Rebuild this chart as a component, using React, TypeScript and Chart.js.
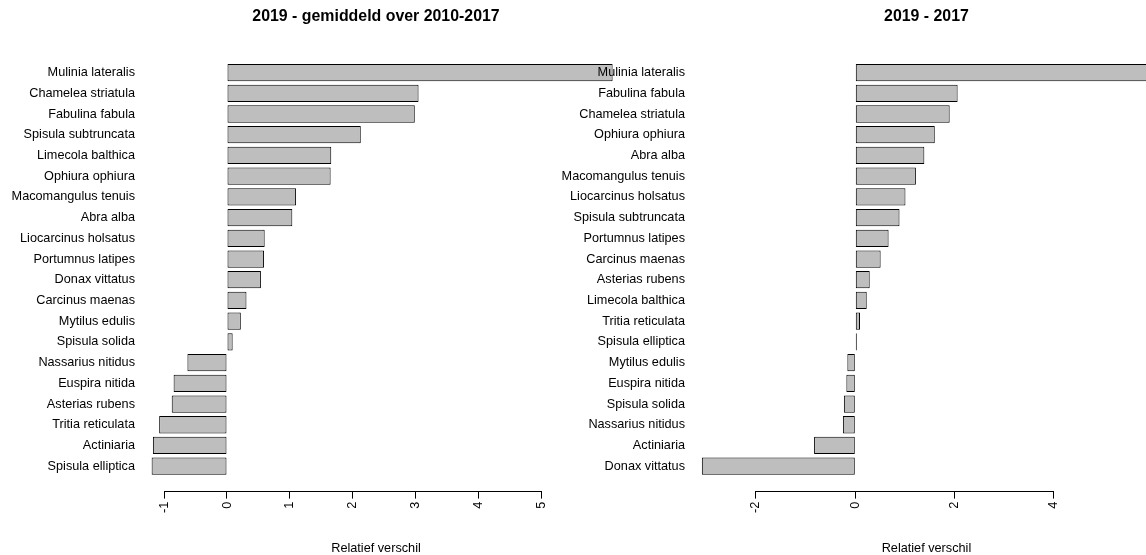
import React, { useEffect, useRef } from 'react';
import { Chart, registerables } from 'chart.js';

Chart.register(...registerables);

const FONT = "'Liberation Sans', Arial, Helvetica, sans-serif";

const leftTitle = '2019 - gemiddeld over 2010-2017';
const rightTitle = '2019 - 2017';
const axisTitle = 'Relatief verschil';

const leftSpecies = [
  'Mulinia lateralis', 'Chamelea striatula', 'Fabulina fabula', 'Spisula subtruncata',
  'Limecola balthica', 'Ophiura ophiura', 'Macomangulus tenuis', 'Abra alba',
  'Liocarcinus holsatus', 'Portumnus latipes', 'Donax vittatus', 'Carcinus maenas',
  'Mytilus edulis', 'Spisula solida', 'Nassarius nitidus', 'Euspira nitida',
  'Asterias rubens', 'Tritia reticulata', 'Actiniaria', 'Spisula elliptica',
];
const leftValues = [
  6.14, 3.05, 2.99, 2.13, 1.66, 1.65, 1.10, 1.04, 0.60, 0.59,
  0.54, 0.31, 0.22, 0.09, -0.63, -0.85, -0.88, -1.08, -1.18, -1.20,
];
const leftTicks = [-1, 0, 1, 2, 3, 4, 5];

const rightSpecies = [
  'Mulinia lateralis', 'Fabulina fabula', 'Chamelea striatula', 'Ophiura ophiura',
  'Abra alba', 'Macomangulus tenuis', 'Liocarcinus holsatus', 'Spisula subtruncata',
  'Portumnus latipes', 'Carcinus maenas', 'Asterias rubens', 'Limecola balthica',
  'Tritia reticulata', 'Spisula elliptica', 'Mytilus edulis', 'Euspira nitida',
  'Spisula solida', 'Nassarius nitidus', 'Actiniaria', 'Donax vittatus',
];
const rightValues = [
  6.14, 2.06, 1.90, 1.60, 1.39, 1.22, 1.01, 0.89, 0.67, 0.51,
  0.29, 0.23, 0.095, 0.03, -0.16, -0.18, -0.23, -0.25, -0.83, -3.09,
];
const rightTicks = [-2, 0, 2, 4];

const rAxisLine = {
  id: 'rAxisLine',
  afterDraw(chart: any) {
    const s = chart.scales.x;
    const t = s.ticks;
    if (!t || !t.length) return;
    const ctx = chart.ctx;
    const x1 = Math.round(s.getPixelForValue(t[0].value) - 0.5) + 0.5;
    const x2 = Math.round(s.getPixelForValue(t[t.length - 1].value) - 0.5) + 0.5;
    const y = Math.round(s.top - 0.5) + 0.5;
    ctx.save();
    ctx.strokeStyle = '#000';
    ctx.lineWidth = 1;
    ctx.beginPath();
    ctx.moveTo(x1 - 0.5, y);
    ctx.lineTo(x2 + 0.5, y);
    ctx.stroke();
    ctx.restore();
  },
};

type PanelCfg = {
  title: string;
  species: string[];
  values: number[];
  ticks: number[];
  left: number;
  width: number;
  yWidth: number;
  padRight: number;
  xMin: number;
  xMax: number;
};

function Panel({ cfg }: { cfg: PanelCfg }) {
  const ref = useRef<HTMLCanvasElement | null>(null);
  useEffect(() => {
    if (!ref.current) return;
    const chart = new Chart(ref.current, {
      type: 'bar',
      data: {
        datasets: [
          {
            data: cfg.values.map((v, i) => ({ x: v, y: i })) as any,
            backgroundColor: '#bebebe',
            borderColor: '#000',
            borderWidth: 1,
            borderSkipped: false,
            barPercentage: 1 / 1.2,
            categoryPercentage: 1,
            clip: false as any,
          } as any,
        ],
      },
      options: {
        indexAxis: 'y',
        responsive: false,
        animation: false,
        layout: { padding: { left: 0, right: cfg.padRight, top: 0, bottom: 0 } },
        plugins: {
          legend: { display: false },
          tooltip: { enabled: false },
          title: {
            display: true,
            text: cfg.title,
            fullSize: false,
            color: '#000',
            font: { family: FONT, size: 15.9, weight: 'bold' },
            padding: { top: 7.5, bottom: 17.3 },
          },
        },
        scales: {
          x: {
            type: 'linear',
            position: 'bottom',
            min: cfg.xMin,
            max: cfg.xMax,
            offset: false,
            afterBuildTicks: (s: any) => {
              s.ticks = cfg.ticks.map((v) => ({ value: v }));
            },
            afterFit: (s: any) => {
              s.height = 63.4;
              s.paddingLeft = 0;
              s.paddingRight = 0;
              s.paddingTop = 0;
              s.paddingBottom = 0;
            },
            grid: {
              display: true,
              drawOnChartArea: false,
              drawTicks: true,
              tickLength: 7,
              color: '#000',
              lineWidth: 1,
              offset: false,
            },
            border: { display: false },
            ticks: {
              minRotation: 90,
              maxRotation: 90,
              padding: 3,
              autoSkip: false,
              color: '#000',
              font: { family: FONT, size: 12.7 },
              callback: (v: any) => String(v),
            },
            title: {
              display: true,
              text: axisTitle,
              color: '#000',
              font: { family: FONT, size: 12.7 },
              padding: { top: 0, bottom: -1 },
            },
          },
          y: {
            type: 'linear',
            position: 'left',
            reverse: true,
            offset: false,
            min: -1.385,
            max: 20.227,
            afterBuildTicks: (s: any) => {
              s.ticks = cfg.species.map((_, i) => ({ value: i }));
            },
            afterFit: (s: any) => {
              s.width = cfg.yWidth;
              s.paddingTop = 0;
              s.paddingBottom = 0;
              s.paddingLeft = 0;
              s.paddingRight = 0;
            },
            grid: { display: false, drawTicks: false, offset: false },
            border: { display: false },
            ticks: {
              autoSkip: false,
              padding: 15,
              color: '#000',
              font: { family: FONT, size: 12.7 },
              callback: (v: any) => cfg.species[v as number],
            },
          },
        },
      } as any,
      plugins: [rAxisLine],
    });
    return () => chart.destroy();
  }, [cfg]);
  return (
    <canvas
      ref={ref}
      width={cfg.width}
      height={555}
      style={{ position: 'absolute', left: cfg.left, top: 0, width: cfg.width, height: 555 }}
    />
  );
}

const leftCfg: PanelCfg = {
  title: leftTitle,
  species: leftSpecies,
  values: leftValues,
  ticks: leftTicks,
  left: 0,
  width: 640,
  yWidth: 150,
  padRight: 38,
  xMin: -1.226,
  xMax: 5.971,
};

const rightCfg: PanelCfg = {
  title: rightTitle,
  species: rightSpecies,
  values: rightValues,
  ticks: rightTicks,
  left: 560,
  width: 600,
  yWidth: 140,
  padRight: 7.1,
  xMin: -3.127,
  xMax: 5.992,
};

export default function App() {
  return (
    <div
      style={{
        position: 'absolute',
        left: 0,
        top: 0,
        width: 1146,
        height: 555,
        overflow: 'hidden',
        background: '#fff',
      }}
    >
      <Panel cfg={leftCfg} />
      <Panel cfg={rightCfg} />
    </div>
  );
}
